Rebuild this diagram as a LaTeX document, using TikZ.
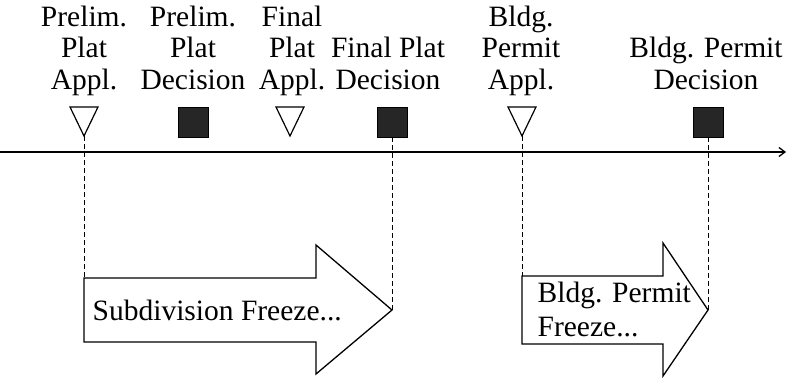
\documentclass[tikz,border=0pt]{standalone}
\usepackage{fontspec}
\setmainfont{Liberation Serif}
\usetikzlibrary{arrows.meta}
\begin{document}
\begin{tikzpicture}[x=1pt,y=-1pt,
  line width=1.3pt,
  label/.style={anchor=south,inner sep=0pt,text depth=0pt,align=center,
    font=\fontsize{29.5}{31.5}\selectfont},
  inlabel/.style={inner sep=0pt,align=left,font=\fontsize{29.5}{34}\selectfont},
  decision/.style={rectangle,fill=black!85,draw=black,line width=0.6pt,
    minimum size=30pt,inner sep=0pt},
  guide/.style={dashed,dash pattern=on 5pt off 3pt,line width=1pt},
  freeze/.style={draw=black,fill=white,line width=1.3pt,line join=miter}]
\useasboundingbox (0,0) rectangle (786,377);

% time axis
\coordinate (ax0) at (0,152);
\coordinate (ax1) at (786,152);
\draw[-{Straight Barb[length=6pt,width=9pt]}] (ax0) -- (ax1);

% application markers (open triangles, apex on the axis)
\foreach \n/\x in {t1/84,t2/290,t3/522}{
  \coordinate (\n) at (\x,136);
  \draw[fill=white,line width=1.2pt,line join=miter]
    (\n) -- ++(-14,-29) -- ++(28,0) -- cycle;
}

% decision markers (filled squares)
\node[decision] (s1) at (193,122) {};
\node[decision] (s2) at (392,122) {};
\node[decision] (s3) at (708,122) {};

% event labels
\node[label] (l1) at (84,90)  {Prelim.\\Plat\\Appl.};
\node[label] (l2) at (193,90) {Prelim.\\Plat\\Decision};
\node[label] (l3) at (292,90) {Final\\Plat\\Appl.};
\node[label] (l4) at (388,90) {Final Plat\\Decision};
\node[label] (l5) at (521,90) {Bldg.\\Permit\\Appl.};
\node[label] (l6) at (706,90) {Bldg. Permit\\Decision};

% freeze period arrows
\coordinate (f1a) at (84,278);
\coordinate (f1tip) at (392,310);
\draw[freeze] (f1a) -- (316,278) -- (316,245) -- (f1tip) -- (316,374)
  -- (316,342) -- (84,342) -- cycle;
\node[inlabel,anchor=base west] (f1l) at (92,320) {Subdivision Freeze...};

\coordinate (f2a) at (522,276);
\coordinate (f2tip) at (708,310);
\draw[freeze] (f2a) -- (663,276) -- (663,243) -- (f2tip) -- (663,376)
  -- (663,344) -- (522,344) -- cycle;
\node[inlabel,anchor=south west,text depth=0pt] (f2l) at (537,337)
  {Bldg. Permit\\Freeze...};

% guides from markers to the freeze arrows
\draw[guide] (t1) -- (f1a);
\draw[guide] (s2.south) -- (f1tip);
\draw[guide] (t3) -- (f2a);
\draw[guide] (s3.south) -- (f2tip);
\end{tikzpicture}
\end{document}
